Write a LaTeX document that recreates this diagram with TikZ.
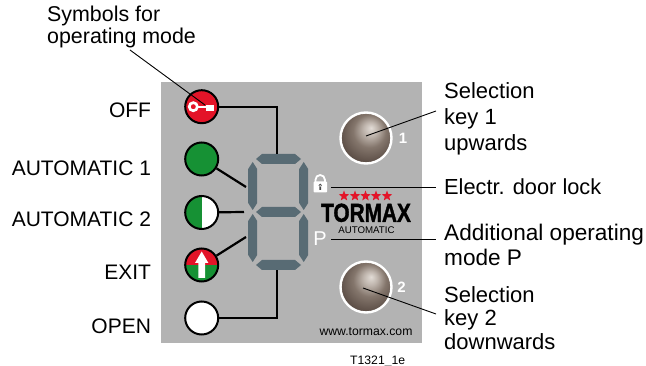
\documentclass[tikz,border=0pt]{standalone}
\usepackage{fontspec}
\setmainfont{Liberation Sans}
\newfontfamily\logofont[FakeBold=1.6]{Liberation Sans Bold}
\usetikzlibrary{positioning,shapes.geometric}

\definecolor{panelgrey}{RGB}{179,179,179}
\definecolor{segblue}{RGB}{88,107,116}
\definecolor{ledred}{RGB}{227,20,40}
\definecolor{ledgreen}{RGB}{22,145,52}
\definecolor{knoba}{RGB}{226,220,214}
\definecolor{knobb}{RGB}{190,180,172}
\definecolor{knobc}{RGB}{132,118,108}
\definecolor{knobd}{RGB}{96,82,74}
\definecolor{knobe}{RGB}{66,56,50}
\definecolor{knobf}{RGB}{50,42,38}
\pgfdeclareradialshading{knobshade}{\pgfpoint{5bp}{10bp}}{%
  color(0bp)=(knoba); color(7bp)=(knobb); color(16bp)=(knobc);
  color(27bp)=(knobd); color(38bp)=(knobe); color(50bp)=(knobf)}

\newcommand{\seghoriz}[3]{\fill[segblue] (#1,#2) -- ++(6,-5) -- ++(33,0) -- ++(6,5) -- ++(-6,5) -- ++(-33,0) -- cycle;}
\newcommand{\segvert}[3]{\fill[segblue] (#1,#2) -- ++(4.5,7) -- ++(0,34) -- ++(-4.5,7) -- ++(-4.5,-7) -- ++(0,-34) -- cycle;}

\begin{document}
\begin{tikzpicture}[
    x=1pt, y=-1pt,
    lbl/.style={font=\fontsize{22}{26}\selectfont, align=left, inner sep=0pt},
    sidelbl/.style={font=\fontsize{21}{26}\selectfont, inner sep=0pt},
    led/.style={draw=black, line width=2pt, circle, minimum size=33pt, inner sep=0pt},
    wire/.style={draw=black, line width=2.2pt},
    leader/.style={draw=black, line width=0.9pt},
    knob/.style={circle, draw=white, line width=2.4pt, minimum size=51pt, inner sep=0pt,
      shading=knobshade},
    keynum/.style={text=white, font=\fontsize{15}{15}\selectfont\bfseries, inner sep=0pt},
    smalltxt/.style={font=\fontsize{12.2}{14}\selectfont, inner sep=0pt},
    startick/.style={star, star points=5, star point ratio=2.4, fill=ledred, inner sep=0pt,
      minimum size=11pt},
  ]
    \useasboundingbox (0,0) rectangle (646,366);

    % Panel
    \fill[panelgrey] (161,82) rectangle (422,343);

    % Seven segment display
    \seghoriz{256}{159}{top}
    \seghoriz{256}{212}{mid}
    \seghoriz{256}{265}{bot}
    \segvert{252.7}{162}{ul}
    \segvert{303.7}{162}{ur}
    \segvert{252.7}{214}{ll}
    \segvert{303.7}{214}{lr}

    % Ends of the wires at the display
    \coordinate (segtop) at (277,154);
    \coordinate (segul) at (246,187);
    \coordinate (segmid) at (244,212);
    \coordinate (segll) at (246,237);
    \coordinate (segbot) at (277,270);

    % Mode symbols
    \node[led, fill=ledred] (ledoff) at (201.7,106.7) {};
    \node[led, fill=ledgreen] (ledauto) at (201.7,159) {};
    \node[led, fill=white, path picture={\fill[ledgreen] (path picture bounding box.south west)
      rectangle (path picture bounding box.north);}] (ledhalf) at (201.7,212.5) {};
    \node[led, fill=ledgreen, path picture={\fill[ledred] (path picture bounding box.west)
      rectangle (path picture bounding box.north east);}] (ledexit) at (201.7,265) {};
    \node[led, fill=white] (ledopen) at (201.7,318) {};

    % Key icon
    \fill[white, even odd rule] (193.3,106.7) circle (5.5) circle (2.6);
    \fill[white] (198,105.6) rectangle (207,108.2);
    \fill[white] (206,105) rectangle (213.7,111.5);

    % Arrow icon
    \fill[white] (198.3,278) -- (198.3,263) -- (195,263) -- (201.7,251.5) -- (208.4,263)
      -- (205,263) -- (205,278) -- cycle;

    % Wires
    \draw[wire] (ledoff) -| (segtop);
    \draw[wire] (ledauto) -- (segul);
    \draw[wire] (ledhalf) -- (segmid);
    \draw[wire] (ledexit) -- (segll);
    \draw[wire] (ledopen) -| (segbot);

    % Selection keys
    \node[knob] (key1) at (366,138) {};
    \node[knob] (key2) at (366,287) {};
    \node[keynum, right=6pt of key1] (num1) {1};
    \node[keynum, right=4.5pt of key2] (num2) {2};

    % Lock and P
    \fill[white, rounded corners=1pt] (313.5,181.5) rectangle (327,192.5);
    \draw[white, line width=1.8pt] (315.5,183) -- (315.5,179.7) arc[start angle=180, end angle=360, radius=4.7] -- (324.9,183);
    \fill[panelgrey!40!black] (320.2,185.3) circle (1.7) (319.4,185.5) rectangle (321,190);
    \node[text=white, font=\fontsize{20}{20}\selectfont, inner sep=0pt] (modep) at (320,239) {P};

    % Logo
    \foreach \sx [count=\si] in {344,355,365.5,376,387}
      \node[startick] (star\si) at (\sx,196) {};
    \node[font=\fontsize{26}{26}\selectfont\logofont, xscale=0.8, inner sep=0pt, text height=18.6pt, text depth=0pt] (logo) at (366,212.5) {TORMAX};
    \node[font=\fontsize{9.7}{10}\selectfont, inner sep=0pt] (logosub) at (366.5,230) {AUTOMATIC};
    \node[smalltxt] (web) at (366,332) {www.tormax.com};
    \node[smalltxt, anchor=west] (figid) at (350,361) {T1321\_1e};

    % Labels left
    \node[sidelbl, left=33pt of ledoff, yshift=-4pt] (lbloff) {OFF};
    \node[sidelbl, left=33pt of ledauto, yshift=-9pt] (lblauto) {AUTOMATIC 1};
    \node[sidelbl, left=33pt of ledhalf, yshift=-7pt] (lblhalf) {AUTOMATIC 2};
    \node[sidelbl, left=33pt of ledexit, yshift=-7pt] (lblexit) {EXIT};
    \node[sidelbl, left=33pt of ledopen, yshift=-8pt] (lblopen) {OPEN};
    \node[lbl, anchor=west, font=\fontsize{21.4}{26}\selectfont] (lblsym) at (47,27) {Symbols for\\[-4pt]operating mode};

    % Labels right
    \node[lbl, anchor=west] (lblkey1) at (444,119) {Selection\\key 1\\upwards};
    \node[lbl, anchor=west, font=\fontsize{21.8}{26}\selectfont] (lbllock) at (444,187) {Electr. door lock};
    \node[lbl, anchor=west, font=\fontsize{22.6}{26}\selectfont] (lblmode) at (444,245) {Additional operating\\[-1.5pt]mode P};
    \node[lbl, anchor=west] (lblkey2) at (444,318) {Selection\\[-2.5pt]key 2\\[-2.5pt]downwards};

    % Leader lines
    \coordinate (symstart) at (130,50);
    \coordinate (symend) at (205,105);
    \coordinate (lockstart) at (331,187);
    \coordinate (pstart) at (331,239);
    \coordinate (key1end) at (366,136);
    \coordinate (key2end) at (363,288);
    \draw[leader] (symstart) -- (symend);
    \draw[leader] (key1end) -- (436,111) coordinate (key1tip);
    \draw[leader] (lockstart) -- (436,187) coordinate (locktip);
    \draw[leader] (pstart) -- (436,239) coordinate (ptip);
    \draw[leader] (key2end) -- (436,314) coordinate (key2tip);
  \end{tikzpicture}
\end{document}
